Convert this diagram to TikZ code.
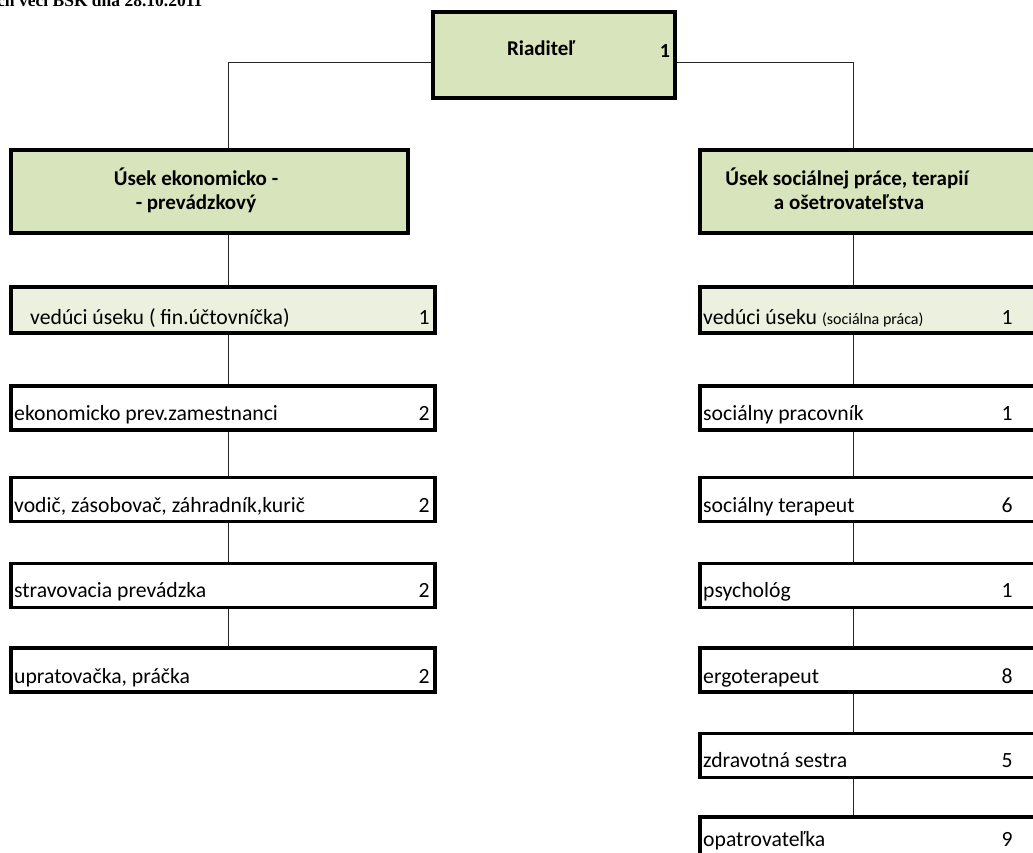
\documentclass[tikz,border=0pt]{standalone}
\usepackage{fontspec}
\setmainfont{Carlito}
\newfontfamily\serif{Liberation Serif}
\definecolor{titlegreen}{HTML}{D8E4BC}
\definecolor{leadgreen}{HTML}{EBF1DE}
\begin{document}
\begin{tikzpicture}[x=1pt,y=-1pt]
\tikzset{
  thickbox/.style={draw, line width=3.5pt, inner sep=0pt, rectangle},
  titlebox/.style={thickbox, fill=titlegreen},
  leadbox/.style={thickbox, fill=leadgreen, minimum height=44pt},
  smallbox/.style={thickbox, fill=white, minimum height=44pt},
  conn/.style={line width=0.9pt, black!85},
  txt/.style={anchor=base west, inner sep=0pt, font=\fontsize{21.7}{24}\selectfont},
  num/.style={anchor=base, inner sep=0pt, font=\fontsize{21.7}{24}\selectfont},
  ttl/.style={anchor=base, inner sep=0pt, font=\fontsize{21}{24}\selectfont\bfseries},
}
\useasboundingbox (0,0) rectangle (1033,852);
\clip (0,0) rectangle (1033,852);
\fill[white] (0,0) rectangle (1033,852);

\node[anchor=base west, inner sep=0pt, font=\serif\bfseries\fontsize{17.5}{19}\selectfont] (hdr) at (-3,6) {ch veci BSK dňa 28.10.2011};

\coordinate (lx) at (228,0);
\coordinate (rx) at (853,0);

% director
\node[titlebox, minimum width=242pt, minimum height=86pt] (riad) at (554,55) {};
\node[ttl] (riadt) at (541,55) {Riaditeľ};
\node[num, font=\fontsize{20}{22}\selectfont\bfseries] (riadn) at (665,57) {1};

% section boxes
\node[titlebox, minimum width=397pt, minimum height=83pt] (lsec) at (209.5,191.5) {};
\node[ttl] (lsect1) at (196,185) {Úsek ekonomicko -};
\node[ttl] (lsect2) at (196,209) {- prevádzkový};
\node[titlebox, minimum width=360pt, minimum height=83pt] (rsec) at (880,191.5) {};
\node[ttl] (rsect1) at (847,185) {Úsek sociálnej práce, terapií};
\node[ttl] (rsect2) at (849,209) {a ošetrovateľstva};

% left column
\node[leadbox, minimum width=424pt, minimum height=46pt] (l0) at (223,310) {};
\node[txt] at (30,324) {vedúci úseku ( fin.účtovníčka)};
\node[num] at (424,324) {1};
\node[smallbox, minimum width=424pt] (l1) at (223,408) {};
\node[txt] at (14,420) {ekonomicko prev.zamestnanci};
\node[num] at (424,420) {2};
\node[smallbox, minimum width=424pt] (l2) at (223,499.5) {};
\node[txt] at (14,512) {vodič, zásobovač, záhradník,kurič};
\node[num] at (424,512) {2};
\node[smallbox, minimum width=424pt] (l3) at (223,585.5) {};
\node[txt] at (14,597) {stravovacia prevádzka};
\node[num] at (424,597) {2};
\node[smallbox, minimum width=424pt] (l4) at (223,670) {};
\node[txt] at (14,683) {upratovačka, práčka};
\node[num] at (424,683) {2};

% right column
\node[leadbox, minimum width=360pt, minimum height=46pt] (r0) at (880,310) {};
\node[txt] at (703,324) {vedúci úseku {\fontsize{16}{18}\selectfont(sociálna práca)}};
\node[num] at (1007,324) {1};
\node[smallbox, minimum width=360pt] (r1) at (880,408) {};
\node[txt] at (703,420) {sociálny pracovník};
\node[num] at (1007,420) {1};
\node[smallbox, minimum width=360pt] (r2) at (880,499.5) {};
\node[txt] at (703,512) {sociálny terapeut};
\node[num] at (1007,512) {6};
\node[smallbox, minimum width=360pt] (r3) at (880,585.5) {};
\node[txt] at (703,597) {psychológ};
\node[num] at (1007,597) {1};
\node[smallbox, minimum width=360pt] (r4) at (880,670) {};
\node[txt] at (703,683) {ergoterapeut};
\node[num] at (1007,683) {8};
\node[smallbox, minimum width=360pt] (r5) at (880,755.5) {};
\node[txt] at (703,767) {zdravotná sestra};
\node[num] at (1007,767) {5};
\node[smallbox, minimum width=360pt] (r6) at (880,839) {};
\node[txt] at (703,846) {opatrovateľka};
\node[num] at (1007,846) {9};

% connectors
\draw[conn] ([yshift=-7pt]riad.west) -| (lsec.north -| lx);
\draw[conn] ([yshift=-7pt]riad.east) -| (rsec.north -| rx);
\draw[conn] (lsec.south -| lx) -- (l0.north -| lx);
\draw[conn] (l0.south -| lx) -- (l1.north -| lx);
\draw[conn] (l1.south -| lx) -- (l2.north -| lx);
\draw[conn] (l2.south -| lx) -- (l3.north -| lx);
\draw[conn] (l3.south -| lx) -- (l4.north -| lx);
\draw[conn] (rsec.south -| rx) -- (r0.north -| rx);
\draw[conn] (r0.south -| rx) -- (r1.north -| rx);
\draw[conn] (r1.south -| rx) -- (r2.north -| rx);
\draw[conn] (r2.south -| rx) -- (r3.north -| rx);
\draw[conn] (r3.south -| rx) -- (r4.north -| rx);
\draw[conn] (r4.south -| rx) -- (r5.north -| rx);
\draw[conn] (r5.south -| rx) -- (r6.north -| rx);
\end{tikzpicture}
\end{document}
